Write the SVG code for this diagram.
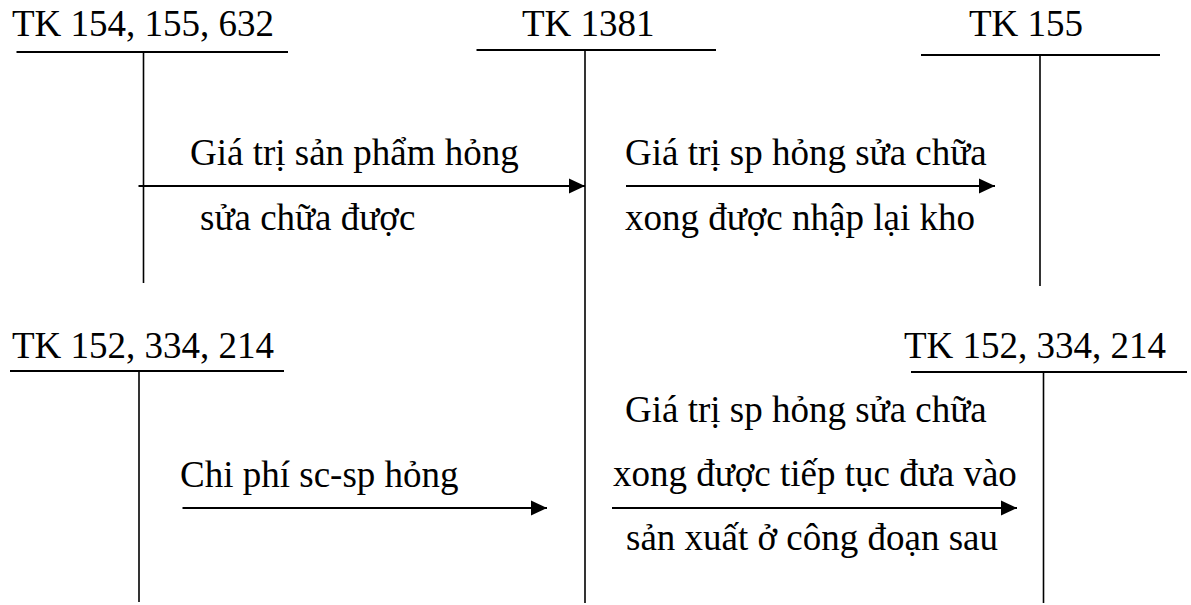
<svg xmlns="http://www.w3.org/2000/svg" width="1191" height="605" viewBox="0 0 1191 605">
  <style>
    text { font-family: "Liberation Serif", "Times New Roman", serif; font-size: 37px; fill: #000; }
    .t { stroke: #000; stroke-width: 2; fill: none; }
    .v { stroke: #000; stroke-width: 1.6; fill: none; }
    .arrow { stroke: #000; stroke-width: 2.2; fill: none; marker-end: url(#ah); }
  </style>
  <defs>
    <marker id="ah" markerUnits="userSpaceOnUse" markerWidth="16" markerHeight="16" viewBox="0 0 16 16" refX="16" refY="8" orient="auto">
      <path d="M0,0.5 L16,8 L0,15.5 Z" fill="#000"/>
    </marker>
  </defs>
  <rect width="1191" height="605" fill="#fff"/>

  <g id="tk154">
    <text x="12" y="36">TK 154, 155, 632</text>
    <line class="t" x1="16.5" y1="52" x2="288" y2="52"/>
    <line class="v" x1="143.5" y1="52" x2="143.5" y2="283"/>
  </g>

  <g id="tk1381">
    <text x="522" y="36">TK 1381</text>
    <line class="t" x1="476.5" y1="50" x2="716" y2="50"/>
    <line class="v" x1="585" y1="50" x2="585" y2="603"/>
  </g>

  <g id="tk155">
    <text x="969" y="36">TK 155</text>
    <line class="t" x1="921" y1="55" x2="1160" y2="55"/>
    <line class="v" x1="1040" y1="55" x2="1040" y2="286"/>
  </g>

  <g id="tk152-left">
    <text x="12" y="358">TK 152, 334, 214</text>
    <line class="t" x1="10" y1="371" x2="284" y2="371"/>
    <line class="v" x1="139" y1="371" x2="139" y2="602"/>
  </g>

  <g id="tk152-right">
    <text x="904" y="358">TK 152, 334, 214</text>
    <line class="t" x1="911" y1="372" x2="1187" y2="372"/>
    <line class="v" x1="1043.5" y1="372" x2="1043.5" y2="603"/>
  </g>

  <g id="connectors">
    <g id="c1">
      <line class="arrow" x1="138.5" y1="186" x2="585" y2="186"/>
      <text x="190" y="165">Giá trị sản phẩm hỏng</text>
      <text x="200" y="230">sửa chữa được</text>
    </g>
    <g id="c2">
      <line class="arrow" x1="626" y1="186" x2="995" y2="186"/>
      <text x="625" y="165">Giá trị sp hỏng sửa chữa</text>
      <text x="625" y="230">xong được nhập lại kho</text>
    </g>
    <g id="c3">
      <line class="arrow" x1="182.5" y1="508" x2="547" y2="508"/>
      <text x="180" y="487">Chi phí sc-sp hỏng</text>
    </g>
    <g id="c4">
      <line class="arrow" x1="612" y1="508" x2="1017" y2="508"/>
      <text x="625" y="422">Giá trị sp hỏng sửa chữa</text>
      <text x="613" y="486">xong được tiếp tục đưa vào</text>
      <text x="626" y="550">sản xuất ở công đoạn sau</text>
    </g>
  </g>
</svg>
